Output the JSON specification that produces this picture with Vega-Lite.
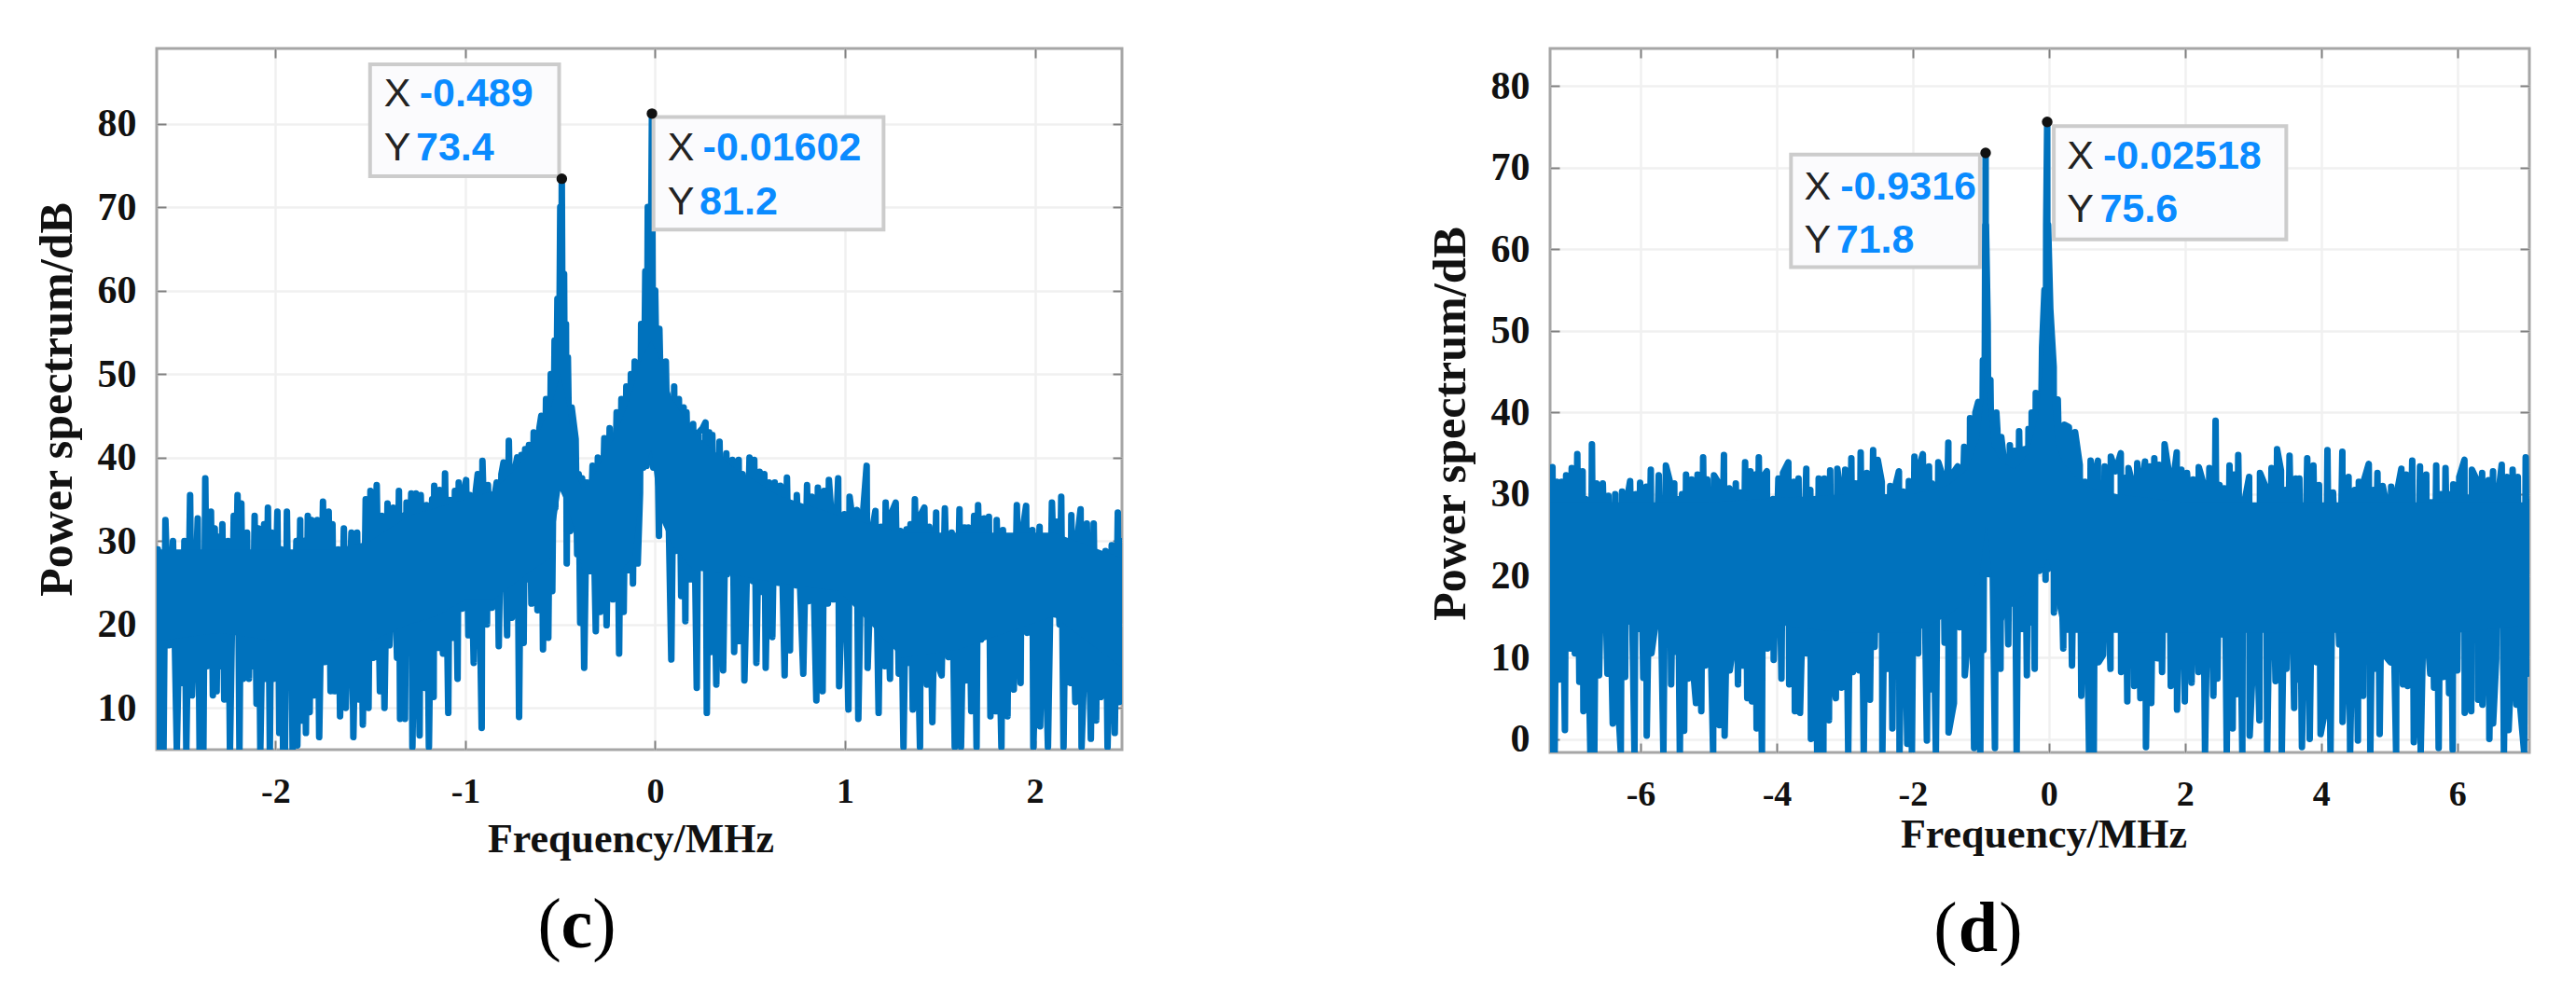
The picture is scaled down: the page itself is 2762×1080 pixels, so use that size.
{"$schema":"https://vega.github.io/schema/vega-lite/v6.json","background":"white","padding":{"left":34,"top":49,"right":40,"bottom":10},"bounds":"flush","spacing":459,
"config":{"view":{"stroke":"#a6a6a6","strokeWidth":3},"axis":{"domain":false,"labelFont":"Liberation Serif","labelFontWeight":"bold","labelFontSize":38,"labelColor":"#111111","titleFont":"Liberation Serif","titleFontWeight":"bold","titleColor":"#111111","titleBaseline":"middle","tickColor":"#808080","tickWidth":2,"tickSize":-10,"gridColor":"#f0f0f0","gridWidth":2.5}},
"datasets":{
"c":[{"f":-2.62,"p":29},{"f":-2.61,"p":5},{"f":-2.59,"p":5},{"f":-2.58,"p":32.5},{"f":-2.56,"p":17.5},{"f":-2.54,"p":30},{"f":-2.52,"p":5},{"f":-2.5,"p":28},{"f":-2.49,"p":13},{"f":-2.48,"p":30},{"f":-2.47,"p":5},{"f":-2.45,"p":35.5},{"f":-2.44,"p":11.5},{"f":-2.43,"p":17.5},{"f":-2.41,"p":32.7},{"f":-2.4,"p":5},{"f":-2.38,"p":5},{"f":-2.37,"p":37.5},{"f":-2.36,"p":15},{"f":-2.34,"p":33.5},{"f":-2.33,"p":11.5},{"f":-2.32,"p":31.5},{"f":-2.31,"p":12},{"f":-2.3,"p":30.5},{"f":-2.29,"p":15},{"f":-2.28,"p":32},{"f":-2.27,"p":11},{"f":-2.25,"p":30},{"f":-2.24,"p":5},{"f":-2.22,"p":33},{"f":-2.21,"p":21.5},{"f":-2.2,"p":35.5},{"f":-2.19,"p":5},{"f":-2.18,"p":34.5},{"f":-2.17,"p":13.5},{"f":-2.15,"p":31},{"f":-2.14,"p":13.5},{"f":-2.13,"p":27},{"f":-2.12,"p":15},{"f":-2.11,"p":33},{"f":-2.1,"p":10.5},{"f":-2.09,"p":31.5},{"f":-2.08,"p":5},{"f":-2.06,"p":32},{"f":-2.05,"p":13.5},{"f":-2.04,"p":34},{"f":-2.03,"p":5},{"f":-2.02,"p":31},{"f":-2.01,"p":13.5},{"f":-1.99,"p":33.5},{"f":-1.98,"p":7},{"f":-1.97,"p":29},{"f":-1.96,"p":5},{"f":-1.95,"p":5},{"f":-1.94,"p":33.5},{"f":-1.93,"p":15.5},{"f":-1.92,"p":28.5},{"f":-1.91,"p":5},{"f":-1.89,"p":30},{"f":-1.885,"p":5.5},{"f":-1.87,"p":32.5},{"f":-1.865,"p":8.5},{"f":-1.85,"p":30},{"f":-1.84,"p":7},{"f":-1.83,"p":33},{"f":-1.82,"p":9.5},{"f":-1.81,"p":32.5},{"f":-1.8,"p":11.5},{"f":-1.79,"p":17.5},{"f":-1.78,"p":32.5},{"f":-1.77,"p":6.5},{"f":-1.75,"p":34.7},{"f":-1.74,"p":15.5},{"f":-1.72,"p":33.5},{"f":-1.71,"p":12},{"f":-1.7,"p":32},{"f":-1.69,"p":12},{"f":-1.67,"p":29},{"f":-1.66,"p":9},{"f":-1.64,"p":31.5},{"f":-1.63,"p":10},{"f":-1.62,"p":17.5},{"f":-1.6,"p":31},{"f":-1.59,"p":6.5},{"f":-1.57,"p":31},{"f":-1.56,"p":11},{"f":-1.55,"p":28},{"f":-1.54,"p":8},{"f":-1.525,"p":35},{"f":-1.51,"p":10},{"f":-1.5,"p":36},{"f":-1.485,"p":16},{"f":-1.467,"p":36.7},{"f":-1.45,"p":12},{"f":-1.44,"p":33},{"f":-1.426,"p":10},{"f":-1.41,"p":34.5},{"f":-1.4,"p":17.5},{"f":-1.38,"p":34},{"f":-1.36,"p":16},{"f":-1.35,"p":36},{"f":-1.344,"p":8.7},{"f":-1.328,"p":33},{"f":-1.318,"p":8.7},{"f":-1.31,"p":34.6},{"f":-1.303,"p":17},{"f":-1.285,"p":35.7},{"f":-1.279,"p":5.3},{"f":-1.26,"p":35.7},{"f":-1.241,"p":6.7},{"f":-1.235,"p":35.5},{"f":-1.213,"p":12.4},{"f":-1.205,"p":34.3},{"f":-1.192,"p":5.3},{"f":-1.175,"p":35},{"f":-1.167,"p":11.3},{"f":-1.164,"p":36.6},{"f":-1.14,"p":17.2},{"f":-1.136,"p":36.1},{"f":-1.118,"p":16.5},{"f":-1.107,"p":38.1},{"f":-1.09,"p":9.4},{"f":-1.082,"p":34.9},{"f":-1.066,"p":18.4},{"f":-1.055,"p":36},{"f":-1.041,"p":13.5},{"f":-1.035,"p":37},{"f":-1.017,"p":21.9},{"f":-1.01,"p":35.3},{"f":-0.996,"p":37.3},{"f":-0.984,"p":18.7},{"f":-0.975,"p":35.5},{"f":-0.956,"p":15.4},{"f":-0.945,"p":36},{"f":-0.935,"p":38},{"f":-0.914,"p":7.6},{"f":-0.91,"p":39.6},{"f":-0.886,"p":20},{"f":-0.881,"p":36.7},{"f":-0.86,"p":22},{"f":-0.853,"p":34.3},{"f":-0.835,"p":37},{"f":-0.824,"p":17.4},{"f":-0.81,"p":38},{"f":-0.799,"p":39.4},{"f":-0.78,"p":18.7},{"f":-0.771,"p":42},{"f":-0.755,"p":20.8},{"f":-0.75,"p":37.3},{"f":-0.727,"p":40},{"f":-0.717,"p":8.9},{"f":-0.705,"p":40.3},{"f":-0.693,"p":17.8},{"f":-0.685,"p":41},{"f":-0.676,"p":25.4},{"f":-0.665,"p":41.5},{"f":-0.652,"p":22.5},{"f":-0.64,"p":43},{"f":-0.62,"p":21.7},{"f":-0.61,"p":43.5},{"f":-0.6,"p":45},{"f":-0.591,"p":17},{"f":-0.575,"p":47},{"f":-0.563,"p":18.4},{"f":-0.55,"p":50},{"f":-0.542,"p":24},{"f":-0.53,"p":54},{"f":-0.526,"p":34},{"f":-0.515,"p":59},{"f":-0.51,"p":38},{"f":-0.5,"p":70},{"f":-0.496,"p":38.5},{"f":-0.492,"p":73.4},{"f":-0.485,"p":38},{"f":-0.48,"p":62},{"f":-0.475,"p":38},{"f":-0.47,"p":56},{"f":-0.466,"p":27.3},{"f":-0.46,"p":52},{"f":-0.447,"p":31.2},{"f":-0.44,"p":46},{"f":-0.419,"p":42.2},{"f":-0.411,"p":28.4},{"f":-0.403,"p":38},{"f":-0.395,"p":20.2},{"f":-0.385,"p":37.5},{"f":-0.374,"p":14.8},{"f":-0.36,"p":37},{"f":-0.346,"p":27.1},{"f":-0.33,"p":39},{"f":-0.313,"p":19.2},{"f":-0.302,"p":40},{"f":-0.289,"p":21.5},{"f":-0.268,"p":42.3},{"f":-0.256,"p":19.9},{"f":-0.24,"p":43.5},{"f":-0.223,"p":23},{"f":-0.203,"p":45.4},{"f":-0.19,"p":16.5},{"f":-0.178,"p":47},{"f":-0.166,"p":21.5},{"f":-0.152,"p":48.5},{"f":-0.141,"p":26.5},{"f":-0.128,"p":50},{"f":-0.117,"p":24.9},{"f":-0.108,"p":51.5},{"f":-0.092,"p":27.3},{"f":-0.08,"p":35.7},{"f":-0.074,"p":56},{"f":-0.062,"p":38.8},{"f":-0.052,"p":62.3},{"f":-0.045,"p":39},{"f":-0.039,"p":70},{"f":-0.03,"p":39.5},{"f":-0.017,"p":81.2},{"f":-0.01,"p":38.8},{"f":0,"p":60},{"f":0.02,"p":30.6},{"f":0.022,"p":55.4},{"f":0.04,"p":36},{"f":0.056,"p":51.5},{"f":0.085,"p":15.8},{"f":0.1,"p":48.5},{"f":0.105,"p":28.8},{"f":0.125,"p":47},{"f":0.137,"p":23.4},{"f":0.15,"p":46},{"f":0.159,"p":20.4},{"f":0.165,"p":45.4},{"f":0.186,"p":25.4},{"f":0.2,"p":44},{"f":0.219,"p":12.4},{"f":0.229,"p":43},{"f":0.25,"p":43.5},{"f":0.265,"p":44.2},{"f":0.272,"p":9.4},{"f":0.285,"p":43},{"f":0.293,"p":16.7},{"f":0.301,"p":42.7},{"f":0.322,"p":12.8},{"f":0.339,"p":41.9},{"f":0.358,"p":14.5},{"f":0.375,"p":40.5},{"f":0.378,"p":26},{"f":0.407,"p":39.7},{"f":0.416,"p":16.7},{"f":0.44,"p":39.7},{"f":0.445,"p":18},{"f":0.46,"p":38},{"f":0.47,"p":13.3},{"f":0.497,"p":40},{"f":0.514,"p":25.2},{"f":0.522,"p":39.7},{"f":0.533,"p":15.4},{"f":0.55,"p":38.3},{"f":0.555,"p":23.9},{"f":0.575,"p":38},{"f":0.582,"p":14.8},{"f":0.6,"p":37},{"f":0.617,"p":18.5},{"f":0.63,"p":37},{"f":0.648,"p":25},{"f":0.66,"p":36.6},{"f":0.682,"p":13.9},{"f":0.694,"p":37.6},{"f":0.71,"p":16.9},{"f":0.718,"p":33.6},{"f":0.74,"p":24.7},{"f":0.746,"p":35.5},{"f":0.78,"p":14.1},{"f":0.8,"p":36.7},{"f":0.808,"p":22.8},{"f":0.825,"p":35.3},{"f":0.849,"p":10.9},{"f":0.857,"p":36.4},{"f":0.882,"p":12},{"f":0.89,"p":36},{"f":0.91,"p":22.5},{"f":0.915,"p":37.3},{"f":0.93,"p":32.5},{"f":0.939,"p":23},{"f":0.964,"p":37.5},{"f":0.969,"p":12.6},{"f":0.997,"p":33.2},{"f":1.018,"p":9.8},{"f":1.024,"p":35.3},{"f":1.046,"p":31.4},{"f":1.062,"p":33.7},{"f":1.07,"p":8.7},{"f":1.087,"p":31},{"f":1.114,"p":39},{"f":1.119,"p":14.8},{"f":1.144,"p":31.4},{"f":1.16,"p":33.6},{"f":1.177,"p":9.4},{"f":1.19,"p":31.7},{"f":1.209,"p":15},{"f":1.214,"p":34.6},{"f":1.237,"p":13.5},{"f":1.242,"p":33.2},{"f":1.267,"p":34.6},{"f":1.283,"p":14.1},{"f":1.292,"p":31.2},{"f":1.308,"p":5.3},{"f":1.324,"p":31.4},{"f":1.329,"p":15.4},{"f":1.345,"p":32},{"f":1.357,"p":9.8},{"f":1.368,"p":35},{"f":1.395,"p":5.3},{"f":1.4,"p":33.2},{"f":1.418,"p":34},{"f":1.431,"p":12.8},{"f":1.444,"p":31.7},{"f":1.46,"p":8.3},{"f":1.48,"p":33.4},{"f":1.485,"p":15.4},{"f":1.509,"p":13.9},{"f":1.526,"p":33.9},{"f":1.545,"p":16.1},{"f":1.562,"p":31},{"f":1.578,"p":5.3},{"f":1.603,"p":33.8},{"f":1.611,"p":5.3},{"f":1.63,"p":31.6},{"f":1.635,"p":13.3},{"f":1.65,"p":31.6},{"f":1.665,"p":9.6},{"f":1.68,"p":33},{"f":1.693,"p":5.3},{"f":1.701,"p":34.3},{"f":1.717,"p":18.2},{"f":1.733,"p":32.7},{"f":1.745,"p":20.8},{"f":1.758,"p":32.9},{"f":1.766,"p":9},{"f":1.78,"p":30},{"f":1.796,"p":9.6},{"f":1.799,"p":32.5},{"f":1.824,"p":5.3},{"f":1.832,"p":31.3},{"f":1.856,"p":9},{"f":1.864,"p":28.8},{"f":1.889,"p":12.2},{"f":1.905,"p":34.3},{"f":1.925,"p":13},{"f":1.93,"p":30.4},{"f":1.954,"p":34.2},{"f":1.96,"p":19},{"f":1.987,"p":31.3},{"f":1.992,"p":5.3},{"f":2.025,"p":31.7},{"f":2.028,"p":7.8},{"f":2.044,"p":28.8},{"f":2.069,"p":5.3},{"f":2.09,"p":34.6},{"f":2.107,"p":21.2},{"f":2.115,"p":32.3},{"f":2.13,"p":20},{"f":2.139,"p":35.3},{"f":2.151,"p":5.3},{"f":2.164,"p":29.5},{"f":2.188,"p":13},{"f":2.192,"p":33.1},{"f":2.213,"p":10.7},{"f":2.22,"p":29.5},{"f":2.241,"p":33.8},{"f":2.246,"p":5.3},{"f":2.268,"p":20.2},{"f":2.274,"p":32.1},{"f":2.295,"p":6.3},{"f":2.31,"p":32.1},{"f":2.323,"p":8.5},{"f":2.331,"p":28.2},{"f":2.347,"p":11.3},{"f":2.372,"p":28.8},{"f":2.383,"p":5.3},{"f":2.405,"p":29.5},{"f":2.421,"p":7},{"f":2.437,"p":33.4},{"f":2.445,"p":10.7},{"f":2.452,"p":30},{"f":2.459,"p":22}],
"d":[{"f":-7.33,"p":29.2},{"f":-7.32,"p":-1.6},{"f":-7.295,"p":33.3},{"f":-7.263,"p":-1.6},{"f":-7.23,"p":31.5},{"f":-7.195,"p":7.3},{"f":-7.16,"p":31.5},{"f":-7.112,"p":1.1},{"f":-7.094,"p":32.3},{"f":-7.035,"p":11.1},{"f":-7.012,"p":33.2},{"f":-6.966,"p":10.5},{"f":-6.93,"p":34.9},{"f":-6.9,"p":7},{"f":-6.852,"p":32.8},{"f":-6.84,"p":3.4},{"f":-6.807,"p":29.4},{"f":-6.738,"p":-1.6},{"f":-6.715,"p":36.1},{"f":-6.68,"p":-1.6},{"f":-6.647,"p":31.3},{"f":-6.61,"p":7.8},{"f":-6.555,"p":31.3},{"f":-6.487,"p":8},{"f":-6.473,"p":29.8},{"f":-6.409,"p":1.9},{"f":-6.373,"p":30},{"f":-6.35,"p":7.1},{"f":-6.291,"p":-1.6},{"f":-6.272,"p":30.3},{"f":-6.227,"p":7.6},{"f":-6.213,"p":28.6},{"f":-6.154,"p":31.6},{"f":-6.09,"p":-1.6},{"f":-6.07,"p":30},{"f":-6.03,"p":13.5},{"f":-6.007,"p":31.4},{"f":-5.96,"p":7.5},{"f":-5.916,"p":30.9},{"f":-5.91,"p":0.4},{"f":-5.85,"p":33},{"f":-5.84,"p":10.5},{"f":-5.788,"p":13.7},{"f":-5.733,"p":32.3},{"f":-5.665,"p":-1.6},{"f":-5.628,"p":33.5},{"f":-5.574,"p":31.7},{"f":-5.551,"p":6.7},{"f":-5.505,"p":31.3},{"f":-5.5,"p":10.7},{"f":-5.459,"p":29.4},{"f":-5.423,"p":-1.6},{"f":-5.391,"p":30},{"f":-5.36,"p":1},{"f":-5.332,"p":32.4},{"f":-5.3,"p":7.4},{"f":-5.25,"p":31.8},{"f":-5.231,"p":8.8},{"f":-5.186,"p":4.4},{"f":-5.163,"p":32.4},{"f":-5.108,"p":3.4},{"f":-5.081,"p":34.5},{"f":-5.049,"p":9},{"f":-5.02,"p":31.8},{"f":-4.934,"p":-1.6},{"f":-4.921,"p":32.3},{"f":-4.85,"p":31.3},{"f":-4.843,"p":1.7},{"f":-4.775,"p":34.8},{"f":-4.765,"p":0.4},{"f":-4.697,"p":30.7},{"f":-4.69,"p":8.4},{"f":-4.628,"p":12.2},{"f":-4.601,"p":31.3},{"f":-4.569,"p":6.7},{"f":-4.537,"p":30.2},{"f":-4.5,"p":9},{"f":-4.464,"p":33.9},{"f":-4.432,"p":5},{"f":-4.386,"p":32.8},{"f":-4.364,"p":4.6},{"f":-4.318,"p":32.4},{"f":-4.295,"p":1.3},{"f":-4.263,"p":34.5},{"f":-4.217,"p":-1.6},{"f":-4.2,"p":32.1},{"f":-4.144,"p":32.8},{"f":-4.135,"p":11.1},{"f":-4.053,"p":29.4},{"f":-4.044,"p":9.7},{"f":-3.975,"p":31.9},{"f":-3.93,"p":7.4},{"f":-3.907,"p":32.6},{"f":-3.829,"p":33.9},{"f":-3.816,"p":6.7},{"f":-3.747,"p":31.5},{"f":-3.733,"p":3.4},{"f":-3.679,"p":31.9},{"f":-3.657,"p":3.2},{"f":-3.565,"p":33.1},{"f":-3.56,"p":10.5},{"f":-3.506,"p":30.5},{"f":-3.497,"p":0},{"f":-3.451,"p":28.8},{"f":-3.405,"p":-1.6},{"f":-3.383,"p":31.9},{"f":-3.314,"p":-1.6},{"f":-3.3,"p":31.9},{"f":-3.232,"p":2.3},{"f":-3.214,"p":32.9},{"f":-3.186,"p":9.2},{"f":-3.131,"p":5},{"f":-3.109,"p":33.1},{"f":-3.06,"p":30},{"f":-3.049,"p":6.3},{"f":-2.994,"p":33},{"f":-2.949,"p":-1.6},{"f":-2.903,"p":34.4},{"f":-2.88,"p":8.2},{"f":-2.84,"p":31.3},{"f":-2.789,"p":8.4},{"f":-2.766,"p":35.1},{"f":-2.721,"p":-1.6},{"f":-2.675,"p":32.6},{"f":-2.629,"p":4.8},{"f":-2.583,"p":35.4},{"f":-2.561,"p":11.3},{"f":-2.515,"p":34.2},{"f":-2.456,"p":31.5},{"f":-2.447,"p":-1.6},{"f":-2.401,"p":28.6},{"f":-2.369,"p":8.6},{"f":-2.332,"p":31},{"f":-2.3,"p":1.3},{"f":-2.27,"p":30.5},{"f":-2.204,"p":32.8},{"f":-2.195,"p":-1.6},{"f":-2.14,"p":30.3},{"f":-2.081,"p":-0.6},{"f":-2.058,"p":31.6},{"f":-2.013,"p":-1.6},{"f":-1.976,"p":34.6},{"f":-1.921,"p":10.5},{"f":-1.91,"p":33.2},{"f":-1.853,"p":34.9},{"f":-1.793,"p":-0.2},{"f":-1.762,"p":33.4},{"f":-1.73,"p":6.1},{"f":-1.72,"p":31.3},{"f":-1.661,"p":-1.6},{"f":-1.625,"p":33.9},{"f":-1.56,"p":32.2},{"f":-1.533,"p":11.8},{"f":-1.478,"p":36.3},{"f":-1.474,"p":0.8},{"f":-1.396,"p":4.4},{"f":-1.39,"p":32.8},{"f":-1.341,"p":33.4},{"f":-1.314,"p":13.7},{"f":-1.245,"p":35.8},{"f":-1.236,"p":7.8},{"f":-1.168,"p":14.3},{"f":-1.159,"p":39.3},{"f":-1.099,"p":-1.1},{"f":-1.08,"p":40},{"f":-1.038,"p":41.3},{"f":-1.008,"p":-1.6},{"f":-0.97,"p":46.4},{"f":-0.962,"p":10.9},{"f":-0.94,"p":51},{"f":-0.935,"p":63},{"f":-0.934,"p":24},{"f":-0.93,"p":71.8},{"f":-0.927,"p":24},{"f":-0.925,"p":63},{"f":-0.9,"p":51},{"f":-0.88,"p":20.2},{"f":-0.86,"p":44},{"f":-0.793,"p":-1.1},{"f":-0.772,"p":40},{"f":-0.757,"p":37.8},{"f":-0.711,"p":8.6},{"f":-0.7,"p":37},{"f":-0.657,"p":33.8},{"f":-0.597,"p":11.6},{"f":-0.574,"p":36},{"f":-0.529,"p":16.6},{"f":-0.506,"p":35.3},{"f":-0.474,"p":-1.6},{"f":-0.438,"p":37.7},{"f":-0.392,"p":13.5},{"f":-0.355,"p":35.5},{"f":-0.324,"p":7.8},{"f":-0.3,"p":38},{"f":-0.264,"p":14.3},{"f":-0.253,"p":40},{"f":-0.209,"p":8.6},{"f":-0.193,"p":42.4},{"f":-0.141,"p":20.6},{"f":-0.1,"p":48},{"f":-0.065,"p":55},{"f":-0.049,"p":19.5},{"f":-0.04,"p":63},{"f":-0.025,"p":75.6},{"f":-0.018,"p":20.8},{"f":-0.012,"p":63},{"f":0.02,"p":52.7},{"f":0.07,"p":45.6},{"f":0.074,"p":15.5},{"f":0.13,"p":41.6},{"f":0.211,"p":11.1},{"f":0.229,"p":38.5},{"f":0.294,"p":38.2},{"f":0.339,"p":9},{"f":0.385,"p":37.6},{"f":0.453,"p":33.6},{"f":0.476,"p":5.3},{"f":0.531,"p":31.5},{"f":0.59,"p":-1.6},{"f":0.613,"p":34.1},{"f":0.659,"p":-1.6},{"f":0.68,"p":32.6},{"f":0.72,"p":34.1},{"f":0.73,"p":9.4},{"f":0.796,"p":10.3},{"f":0.819,"p":33.4},{"f":0.905,"p":8.6},{"f":0.91,"p":34.6},{"f":0.979,"p":32.8},{"f":1.056,"p":35},{"f":1.061,"p":8.2},{"f":1.12,"p":32},{"f":1.152,"p":4.6},{"f":1.17,"p":33.2},{"f":1.23,"p":31.1},{"f":1.253,"p":6.5},{"f":1.298,"p":33.8},{"f":1.344,"p":5},{"f":1.353,"p":30.9},{"f":1.412,"p":34},{"f":1.426,"p":-1},{"f":1.48,"p":33.4},{"f":1.504,"p":4.4},{"f":1.549,"p":34.4},{"f":1.595,"p":9.9},{"f":1.62,"p":33.6},{"f":1.663,"p":8.2},{"f":1.7,"p":36.1},{"f":1.764,"p":32.6},{"f":1.791,"p":6.5},{"f":1.814,"p":30.7},{"f":1.878,"p":35.1},{"f":1.883,"p":3.6},{"f":1.947,"p":33},{"f":1.997,"p":4.6},{"f":2.029,"p":32.6},{"f":2.065,"p":28.2},{"f":2.097,"p":6.9},{"f":2.12,"p":31.8},{"f":2.198,"p":8.2},{"f":2.202,"p":33.3},{"f":2.26,"p":31.6},{"f":2.294,"p":-1.6},{"f":2.358,"p":33.2},{"f":2.417,"p":5.3},{"f":2.449,"p":39},{"f":2.476,"p":7.4},{"f":2.508,"p":31.1},{"f":2.554,"p":12.8},{"f":2.577,"p":30.7},{"f":2.613,"p":-1.6},{"f":2.654,"p":33.5},{"f":2.7,"p":1.3},{"f":2.72,"p":32.4},{"f":2.759,"p":5.5},{"f":2.782,"p":34.8},{"f":2.842,"p":-1.6},{"f":2.851,"p":28},{"f":2.942,"p":32.1},{"f":2.95,"p":0.4},{"f":3.005,"p":10.7},{"f":3.011,"p":28.2},{"f":3.093,"p":2.3},{"f":3.102,"p":32.6},{"f":3.193,"p":30.7},{"f":3.207,"p":-1.6},{"f":3.271,"p":33.2},{"f":3.33,"p":7.1},{"f":3.353,"p":35.5},{"f":3.41,"p":32.9},{"f":3.422,"p":-1.6},{"f":3.476,"p":30.5},{"f":3.49,"p":8.6},{"f":3.536,"p":34.7},{"f":3.604,"p":3.8},{"f":3.627,"p":31.9},{"f":3.672,"p":7.3},{"f":3.68,"p":31.9},{"f":3.718,"p":-1},{"f":3.796,"p":34.4},{"f":3.832,"p":0},{"f":3.887,"p":33.5},{"f":3.933,"p":9.4},{"f":3.969,"p":31.1},{"f":3.992,"p":0.6},{"f":4.06,"p":3.6},{"f":4.093,"p":35.4},{"f":4.138,"p":-1.6},{"f":4.175,"p":30.2},{"f":4.266,"p":11.6},{"f":4.312,"p":35.2},{"f":4.315,"p":2.1},{"f":4.357,"p":10.7},{"f":4.403,"p":32.1},{"f":4.426,"p":-1.6},{"f":4.494,"p":30.5},{"f":4.54,"p":-0.2},{"f":4.554,"p":31.5},{"f":4.618,"p":5.3},{"f":4.63,"p":31.7},{"f":4.7,"p":33.7},{"f":4.723,"p":-1.6},{"f":4.77,"p":30.5},{"f":4.782,"p":8.6},{"f":4.828,"p":32.6},{"f":4.86,"p":0.6},{"f":4.905,"p":31},{"f":4.94,"p":29.6},{"f":4.951,"p":10.1},{"f":5.02,"p":9.4},{"f":5.029,"p":30.9},{"f":5.102,"p":-1.6},{"f":5.11,"p":30},{"f":5.179,"p":33.1},{"f":5.202,"p":6.7},{"f":5.25,"p":32.4},{"f":5.271,"p":6.5},{"f":5.339,"p":34.1},{"f":5.362,"p":-0.4},{"f":5.408,"p":6.5},{"f":5.453,"p":33.4},{"f":5.463,"p":-1.6},{"f":5.545,"p":32.4},{"f":5.55,"p":14.3},{"f":5.604,"p":8},{"f":5.613,"p":29},{"f":5.659,"p":6.3},{"f":5.691,"p":33.5},{"f":5.727,"p":-1.1},{"f":5.76,"p":30},{"f":5.796,"p":7.6},{"f":5.828,"p":33.2},{"f":5.88,"p":5.6},{"f":5.9,"p":30},{"f":5.933,"p":-1.3},{"f":5.942,"p":31.2},{"f":6.001,"p":8.4},{"f":6.03,"p":32.1},{"f":6.106,"p":34.2},{"f":6.11,"p":3.2},{"f":6.17,"p":29.6},{"f":6.206,"p":3.4},{"f":6.216,"p":33},{"f":6.3,"p":31.5},{"f":6.307,"p":4.8},{"f":6.366,"p":32.6},{"f":6.37,"p":4.2},{"f":6.46,"p":31.7},{"f":6.472,"p":0},{"f":6.526,"p":32.8},{"f":6.527,"p":1.9},{"f":6.572,"p":9.7},{"f":6.585,"p":28.6},{"f":6.654,"p":33.6},{"f":6.686,"p":-1.6},{"f":6.73,"p":32.1},{"f":6.755,"p":1.1},{"f":6.8,"p":10.1},{"f":6.814,"p":33},{"f":6.87,"p":4.2},{"f":6.89,"p":32.1},{"f":6.915,"p":5},{"f":6.983,"p":-1.6},{"f":7.006,"p":34.5},{"f":7.03,"p":8},{"f":7.045,"p":29},{"f":7.05,"p":12}],
"cCore":[{"f":-2.62,"lo":18,"hi":29},{"f":-2.3,"lo":19,"hi":29},{"f":-2,"lo":18,"hi":29},{"f":-1.7,"lo":18,"hi":29},{"f":-1.5,"lo":18,"hi":30},{"f":-1.3,"lo":20,"hi":33},{"f":-1.15,"lo":21,"hi":34},{"f":-1,"lo":23,"hi":35},{"f":-0.85,"lo":23,"hi":36},{"f":-0.68,"lo":26,"hi":40},{"f":-0.55,"lo":28,"hi":46},{"f":-0.5,"lo":36,"hi":50},{"f":-0.46,"lo":34,"hi":46},{"f":-0.42,"lo":31,"hi":38},{"f":-0.38,"lo":26,"hi":36},{"f":-0.32,"lo":26,"hi":38},{"f":-0.2,"lo":26,"hi":43},{"f":-0.12,"lo":28,"hi":48},{"f":-0.07,"lo":38,"hi":52},{"f":-0.02,"lo":41,"hi":54},{"f":0.02,"lo":33,"hi":52},{"f":0.09,"lo":29.5,"hi":47},{"f":0.2,"lo":26.5,"hi":43},{"f":0.4,"lo":26,"hi":39},{"f":0.645,"lo":25,"hi":35.5},{"f":0.97,"lo":24,"hi":33},{"f":1.3,"lo":16,"hi":31},{"f":1.6,"lo":17,"hi":31},{"f":2.1,"lo":21,"hi":31},{"f":2.45,"lo":15,"hi":28}],
"dCore":[{"f":-7.33,"lo":14,"hi":29},{"f":-6,"lo":14,"hi":29},{"f":-5,"lo":14,"hi":29},{"f":-4,"lo":14,"hi":29.5},{"f":-3,"lo":13,"hi":30},{"f":-2,"lo":13,"hi":30},{"f":-1.5,"lo":15,"hi":31},{"f":-1.2,"lo":17,"hi":33},{"f":-1.02,"lo":20,"hi":37},{"f":-0.96,"lo":24,"hi":42},{"f":-0.93,"lo":26,"hi":50},{"f":-0.9,"lo":26,"hi":42},{"f":-0.84,"lo":20,"hi":36},{"f":-0.7,"lo":14,"hi":34},{"f":-0.5,"lo":17,"hi":33},{"f":-0.3,"lo":18,"hi":35},{"f":-0.15,"lo":21,"hi":40},{"f":-0.07,"lo":21,"hi":48},{"f":-0.03,"lo":22,"hi":56},{"f":0,"lo":22,"hi":52},{"f":0.05,"lo":20,"hi":41},{"f":0.1,"lo":17,"hi":36},{"f":0.2,"lo":13,"hi":34},{"f":0.5,"lo":13,"hi":31},{"f":1,"lo":13,"hi":30},{"f":2,"lo":13,"hi":29},{"f":3,"lo":13,"hi":29},{"f":4,"lo":13,"hi":29},{"f":5,"lo":13,"hi":29},{"f":6,"lo":13,"hi":29},{"f":7.05,"lo":14,"hi":29}],
"cBox":[{"f1":-1.502,"f2":-0.506,"p1":87.1,"p2":73.7},{"f1":-0.009,"f2":1.203,"p1":80.8,"p2":67.3}],
"dBox":[{"f1":-3.79,"f2":-1.014,"p1":71.6,"p2":57.8},{"f1":0.072,"f2":3.488,"p1":75.1,"p2":61.2}],
"cTip":[{"f":-0.492,"p":73.4},{"f":-0.017,"p":81.2}],
"dTip":[{"f":-0.93,"p":71.8},{"f":-0.025,"p":75.6}],
"cKey":[{"f":-1.429,"p":83.5,"t":"X"},{"f":-1.429,"p":77.1,"t":"Y"},{"f":0.065,"p":77,"t":"X"},{"f":0.065,"p":70.6,"t":"Y"}],
"dKey":[{"f":-3.597,"p":67.6,"t":"X"},{"f":-3.597,"p":61.1,"t":"Y"},{"f":0.266,"p":71.4,"t":"X"},{"f":0.266,"p":64.8,"t":"Y"}],
"cVal":[{"f":-1.242,"p":83.5,"t":"-0.489"},{"f":-1.26,"p":77.1,"t":"73.4"},{"f":0.251,"p":77,"t":"-0.01602"},{"f":0.234,"p":70.6,"t":"81.2"}],
"dVal":[{"f":-3.066,"p":67.6,"t":"-0.9316"},{"f":-3.126,"p":61.1,"t":"71.8"},{"f":0.797,"p":71.4,"t":"-0.02518"},{"f":0.748,"p":64.8,"t":"75.6"}],
"cParen":[{"f":-0.557,"p":-16.1,"t":"("},{"f":-0.268,"p":-16.1,"t":")"}],
"dParen":[{"f":-1.52,"p":-23.3,"t":"("},{"f":-0.56,"p":-23.3,"t":")"}],
"cLetter":[{"f":-0.413,"p":-16.1,"t":"c"}],
"dLetter":[{"f":-1.04,"p":-23.3,"t":"d"}]
},
"hconcat":[
{"width":1035,"height":752,
"encoding":{"x":{"field":"f","type":"quantitative","scale":{"domain":[-2.626,2.459],"nice":false,"zero":false},"axis":null},"y":{"field":"p","type":"quantitative","scale":{"domain":[5,89],"nice":false,"zero":false},"axis":null}},
"resolve":{"axis":{"x":"independent","y":"independent"}},
"layer":[
{"data":{"name":"c"},"mark":{"type":"line","color":"#0072bd","strokeWidth":7,"strokeCap":"round","strokeJoin":"round","clip":true},
"encoding":{"x":{"field":"f","type":"quantitative","scale":{"domain":[-2.626,2.459],"nice":false,"zero":false},"axis":{"values":[-2,-1,0,1,2],"labelExpr":"'' + datum.value","labelPadding":36,"title":"Frequency/MHz","titleFontSize":44,"titleX":508,"titleY":96,"grid":true}},
"y":{"field":"p","type":"quantitative","scale":{"domain":[5,89],"nice":false,"zero":false},"axis":{"values":[10,20,30,40,50,60,70,80],"labelExpr":"'' + datum.value","labelFontSize":42,"labelPadding":32,"title":"Power spectrum/dB","titleFontSize":50,"titleX":-107,"titleY":376,"grid":true}}}},
{"data":{"name":"cCore"},"mark":{"type":"area","color":"#0072bd","clip":true},"encoding":{"y":{"field":"hi","type":"quantitative","scale":{"domain":[5,89],"nice":false,"zero":false},"axis":null},"y2":{"field":"lo"}}},
{"data":{"name":"cBox"},"mark":{"type":"rect","fill":"#fbfbfd","stroke":"#cccccc","strokeWidth":4},
"encoding":{"x":{"field":"f1","type":"quantitative","scale":{"domain":[-2.626,2.459],"nice":false,"zero":false},"axis":{"orient":"top","values":[-2,-1,0,1,2],"labels":false,"title":null,"grid":false}},"x2":{"field":"f2"},
"y":{"field":"p1","type":"quantitative","scale":{"domain":[5,89],"nice":false,"zero":false},"axis":{"orient":"right","values":[10,20,30,40,50,60,70,80],"labels":false,"title":null,"grid":false}},"y2":{"field":"p2"}}},
{"data":{"name":"cTip"},"mark":{"type":"point","filled":true,"color":"#111111","size":130,"opacity":1}},
{"data":{"name":"cKey"},"mark":{"type":"text","font":"Liberation Sans","fontSize":43,"align":"left","baseline":"middle","color":"#222222"},"encoding":{"text":{"field":"t"}}},
{"data":{"name":"cVal"},"mark":{"type":"text","font":"Liberation Sans","fontWeight":"bold","fontSize":43,"align":"left","baseline":"middle","color":"#0a8bff"},"encoding":{"text":{"field":"t"}}},
{"data":{"name":"cParen"},"mark":{"type":"text","font":"Liberation Serif","fontSize":76,"align":"center","baseline":"middle","color":"#000000"},"encoding":{"text":{"field":"t"}}},
{"data":{"name":"cLetter"},"mark":{"type":"text","font":"Liberation Serif","fontWeight":"bold","fontSize":76,"align":"center","baseline":"middle","color":"#000000"},"encoding":{"text":{"field":"t"}}}
]},
{"width":1050,"height":755,
"encoding":{"x":{"field":"f","type":"quantitative","scale":{"domain":[-7.33,7.06],"nice":false,"zero":false},"axis":null},"y":{"field":"p","type":"quantitative","scale":{"domain":[-1.65,84.6],"nice":false,"zero":false},"axis":null}},
"resolve":{"axis":{"x":"independent","y":"independent"}},
"layer":[
{"data":{"name":"d"},"mark":{"type":"line","color":"#0072bd","strokeWidth":7,"strokeCap":"round","strokeJoin":"round","clip":true},
"encoding":{"x":{"field":"f","type":"quantitative","scale":{"domain":[-7.33,7.06],"nice":false,"zero":false},"axis":{"values":[-6,-4,-2,0,2,4,6],"labelExpr":"'' + datum.value","labelPadding":36,"title":"Frequency/MHz","titleFontSize":44,"titleX":529,"titleY":88,"grid":true}},
"y":{"field":"p","type":"quantitative","scale":{"domain":[-1.65,84.6],"nice":false,"zero":false},"axis":{"values":[0,10,20,30,40,50,60,70,80],"labelExpr":"'' + datum.value","labelFontSize":42,"labelPadding":32,"title":"Power spectrum/dB","titleFontSize":50,"titleX":-107,"titleY":402,"grid":true}}}},
{"data":{"name":"dCore"},"mark":{"type":"area","color":"#0072bd","clip":true},"encoding":{"y":{"field":"hi","type":"quantitative","scale":{"domain":[-1.65,84.6],"nice":false,"zero":false},"axis":null},"y2":{"field":"lo"}}},
{"data":{"name":"dBox"},"mark":{"type":"rect","fill":"#fbfbfd","stroke":"#cccccc","strokeWidth":4},
"encoding":{"x":{"field":"f1","type":"quantitative","scale":{"domain":[-7.33,7.06],"nice":false,"zero":false},"axis":{"orient":"top","values":[-6,-4,-2,0,2,4,6],"labels":false,"title":null,"grid":false}},"x2":{"field":"f2"},
"y":{"field":"p1","type":"quantitative","scale":{"domain":[-1.65,84.6],"nice":false,"zero":false},"axis":{"orient":"right","values":[0,10,20,30,40,50,60,70,80],"labels":false,"title":null,"grid":false}},"y2":{"field":"p2"}}},
{"data":{"name":"dTip"},"mark":{"type":"point","filled":true,"color":"#111111","size":130,"opacity":1}},
{"data":{"name":"dKey"},"mark":{"type":"text","font":"Liberation Sans","fontSize":43,"align":"left","baseline":"middle","color":"#222222"},"encoding":{"text":{"field":"t"}}},
{"data":{"name":"dVal"},"mark":{"type":"text","font":"Liberation Sans","fontWeight":"bold","fontSize":43,"align":"left","baseline":"middle","color":"#0a8bff"},"encoding":{"text":{"field":"t"}}},
{"data":{"name":"dParen"},"mark":{"type":"text","font":"Liberation Serif","fontSize":76,"align":"center","baseline":"middle","color":"#000000"},"encoding":{"text":{"field":"t"}}},
{"data":{"name":"dLetter"},"mark":{"type":"text","font":"Liberation Serif","fontWeight":"bold","fontSize":76,"align":"center","baseline":"middle","color":"#000000"},"encoding":{"text":{"field":"t"}}}
]}
]}
